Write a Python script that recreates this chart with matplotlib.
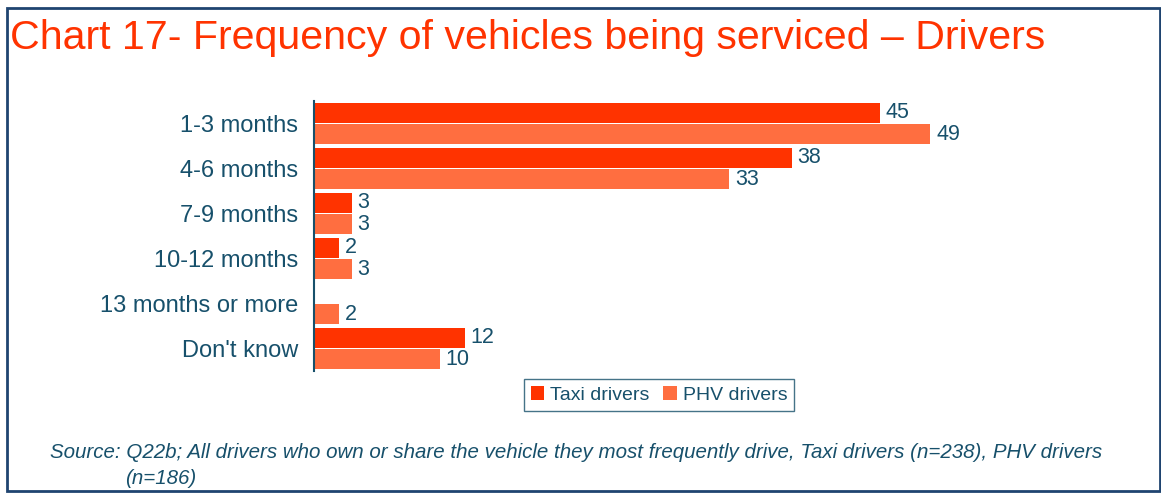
import numpy as np
import matplotlib.pyplot as plt
from matplotlib.patches import Rectangle

categories = ['1-3 months', '4-6 months', '7-9 months', '10-12 months',
              '13 months or more', "Don't know"]
taxi = [45, 38, 3, 2, None, 12]
phv = [49, 33, 3, 3, 2, 10]

taxi_col = '#FF3300'
phv_col = '#FF6E40'
txt_col = '#17506B'

W, H = 1161, 496
fig = plt.figure(figsize=(W/100, H/100), dpi=100)
plt.rcParams['font.family'] = ['Liberation Sans', 'DejaVu Sans']

# outer frame
fig.patches.append(Rectangle((7/W, 1-491/H), (1160-7)/W, (491-8)/H,
                             transform=fig.transFigure, fill=False,
                             edgecolor='#1F4470', lw=2))

fig.text(10/W, 1-38/H, 'Chart 17- Frequency of vehicles being serviced \u2013 Drivers',
         color=taxi_col, fontsize=29.6, va='center', ha='left')

ax = fig.add_axes([314/W, 1-371/H, (1100-314)/W, (371-101)/H])
y = np.arange(len(categories))
h = 0.45
tv = np.array([np.nan if v is None else v for v in taxi], dtype=float)
pv = np.array(phv, dtype=float)
ax.barh(y - 0.235, np.nan_to_num(tv), height=h, color=taxi_col, label='Taxi drivers')
ax.barh(y + 0.235, pv, height=h, color=phv_col, label='PHV drivers')

for i in range(len(categories)):
    if not np.isnan(tv[i]):
        ax.text(tv[i] + 0.45, y[i] - 0.235, '%d' % tv[i], va='center', ha='left',
                color=txt_col, fontsize=15.5)
    ax.text(pv[i] + 0.45, y[i] + 0.235, '%d' % pv[i], va='center', ha='left',
            color=txt_col, fontsize=15.5)

ax.set_xlim(0, (1100-314)/12.58)
ax.set_ylim(len(categories) - 0.5, -0.5)
ax.set_yticks(y)
ax.set_yticklabels(categories, fontsize=17, color=txt_col)
ax.tick_params(axis='y', length=0, pad=11.5)
ax.set_xticks([])
for s in ['top', 'right', 'bottom']:
    ax.spines[s].set_visible(False)
ax.spines['left'].set_color(txt_col)
ax.spines['left'].set_linewidth(1.5)

leg = fig.legend(loc='center', bbox_to_anchor=(659/W, 1-395/H), ncol=2,
                 fontsize=14, frameon=True, fancybox=False, handlelength=0.7,
                 handleheight=0.7, handletextpad=0.3, columnspacing=0.7,
                 borderpad=0.35)
leg.get_frame().set_edgecolor(txt_col)
leg.get_frame().set_linewidth(1)
for t in leg.get_texts():
    t.set_color(txt_col)

fig.text(50/W, 1-453/H, 'Source: Q22b; All drivers who own or share the vehicle they most '
         'frequently drive, Taxi drivers (n=238), PHV drivers',
         color=txt_col, fontsize=14.8, style='italic', va='center', ha='left')
fig.text(125/W, 1-478/H, '(n=186)', color=txt_col, fontsize=14.8, style='italic',
         va='center', ha='left')

fig.savefig('out.png', dpi=100)
